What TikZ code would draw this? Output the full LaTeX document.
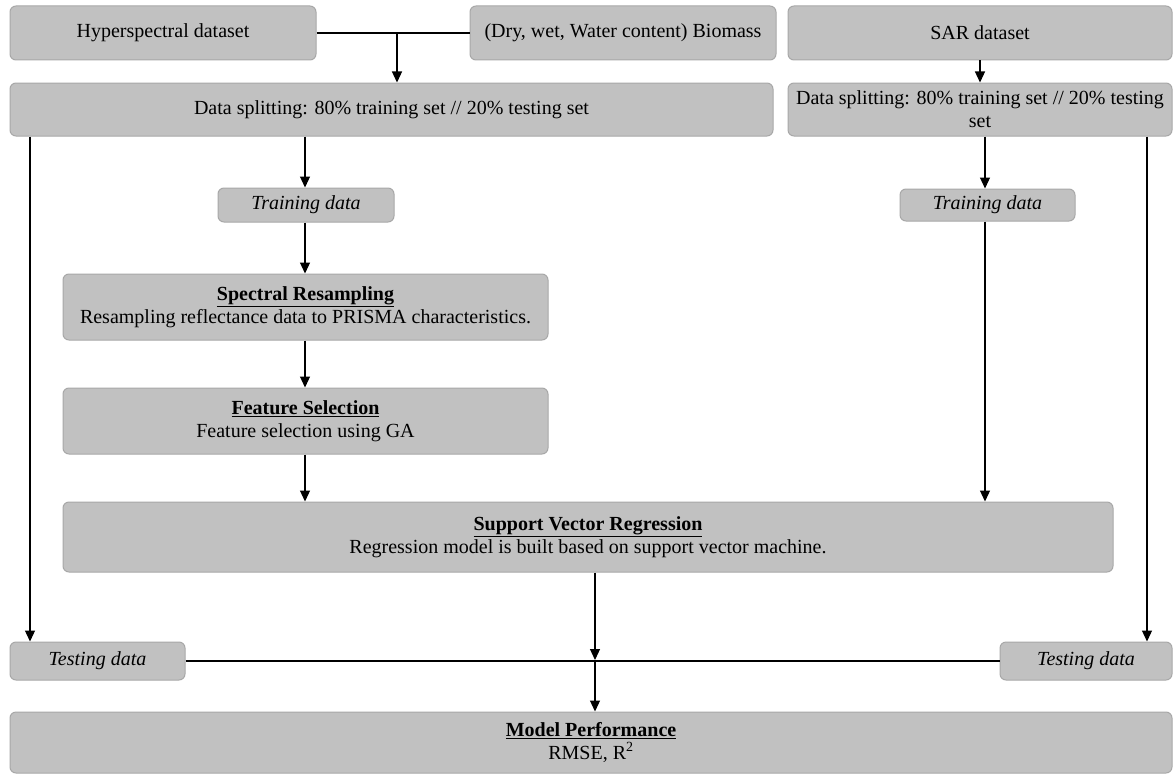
\documentclass[tikz,border=0pt]{standalone}
\usepackage{fontspec}
\setmainfont{Liberation Serif}
\usetikzlibrary{arrows.meta}
\definecolor{boxgray}{RGB}{193,193,193}
\definecolor{edgegray}{RGB}{168,168,168}
\newcommand{\heading}[1]{\underline{\textbf{#1}}}

\begin{document}
\begin{tikzpicture}[x=1pt, y=-1pt, >={Triangle[width=10pt,length=11pt]},
                    line width=1.2pt,
                    box/.style = {draw=edgegray, fill=boxgray, rounded corners=6pt,
                        align=center, inner sep=2pt, line width=1pt,
                        font=\fontsize{20}{23}\selectfont},
                    note/.style = {box, font=\fontsize{20}{23}\selectfont\itshape}]
        \useasboundingbox (0,0) rectangle (1175,776);

        % inputs
        \node[box, minimum width=306, minimum height=54] (hyper) at (163,33) {Hyperspectral dataset};
        \node[box, minimum width=306, minimum height=54] (bio) at (623,33) {(Dry, wet, Water content) Biomass};
        \node[box, minimum width=384, minimum height=54] (sar) at (980,33) {SAR dataset};

        % splitting
        \node[box, minimum width=763, minimum height=53] (split) at (391.5,109.5) {Data splitting: 80\% training set // 20\% testing set};
        \node[box, minimum width=384, minimum height=53] (sarsplit) at (980,109.5) {Data splitting: 80\% training set // 20\% testing\\set};

        \node[note, minimum width=176, minimum height=34] (trainH) at (306,205) {Training data};
        \node[note, minimum width=175, minimum height=32] (trainS) at (987.5,205) {Training data};

        % processing chain
        \node[box, minimum width=485, minimum height=66] (spec) at (305.5,307) {\heading{Spectral Resampling}\\Resampling reflectance data to PRISMA characteristics.};
        \node[box, minimum width=485, minimum height=66] (feat) at (305.5,421) {\heading{Feature Selection}\\Feature selection using GA};
        \node[box, minimum width=1050, minimum height=70] (svr) at (588,537) {\heading{Support Vector Regression}\\Regression model is built based on support vector machine.};

        \node[note, minimum width=175, minimum height=38] (testL) at (97.5,661) {Testing data};
        \node[note, minimum width=172, minimum height=38] (testR) at (1086,661) {Testing data};
        \node[box, minimum width=1162, minimum height=61] (perf) at (591,742.5) {\heading{Model Performance}\\RMSE, R\textsuperscript{2}};

        \coordinate (j1) at (397,33);
        \coordinate (j2) at (595,660);
        \coordinate (lx) at (30,0);
        \coordinate (rx) at (1147,0);
        \coordinate (hx) at (305,0);
        \coordinate (sx) at (985,0);

        \draw (hyper) -- (bio);
        \draw[->] (j1) -- (j1 |- split.north);
        \draw[->] (sar) -- (sarsplit);

        \draw[->] (split.south -| hx) -- (trainH.north -| hx);
        \draw[->] (trainH.south -| hx) -- (spec.north -| hx);
        \draw[->] (spec.south -| hx) -- (feat.north -| hx);
        \draw[->] (feat.south -| hx) -- (svr.north -| hx);

        \draw[->] (sarsplit.south -| sx) -- (trainS.north -| sx);
        \draw[->] (trainS.south -| sx) -- (svr.north -| sx);

        \draw[->] (split.south -| lx) -- (testL.north -| lx);
        \draw[->] (sarsplit.south -| rx) -- (testR.north -| rx);

        \draw (testL) -- (testR);
        \draw[->] (svr.south -| j2) -- (j2);
        \draw[->] (j2) -- (j2 |- perf.north);
    \end{tikzpicture}
\end{document}
